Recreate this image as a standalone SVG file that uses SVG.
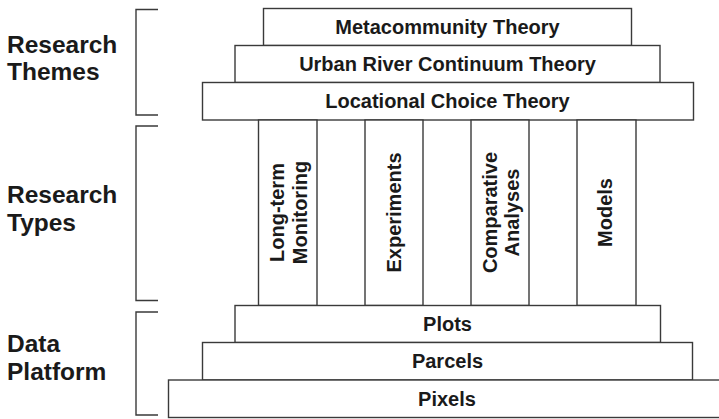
<svg xmlns="http://www.w3.org/2000/svg" width="719" height="419" viewBox="0 0 719 419">
  <style>
    .box { fill: #ffffff; stroke: #3a3a3a; stroke-width: 1.4; }
    .bracket { fill: none; stroke: #3a3a3a; stroke-width: 1.4; }
    .lbl { font-family: "Liberation Sans", Arial, sans-serif; font-weight: bold; font-size: 20px; fill: #1a1a1a; text-anchor: middle; }
    .side { font-family: "Liberation Sans", Arial, sans-serif; font-weight: bold; font-size: 24.5px; fill: #1a1a1a; }
  </style>
  <rect width="719" height="419" fill="#ffffff"/>

  <!-- tier labels on the left -->
  <g id="label-themes">
    <text class="side" x="7" y="53">Research</text>
    <text class="side" x="7" y="80">Themes</text>
  </g>
  <g id="label-types">
    <text class="side" x="7" y="203">Research</text>
    <text class="side" x="7" y="231">Types</text>
  </g>
  <g id="label-platform">
    <text class="side" x="7" y="352">Data</text>
    <text class="side" x="7" y="380">Platform</text>
  </g>

  <!-- brackets grouping each tier -->
  <g id="brackets">
    <path class="bracket" d="M158 9.5 H136 V115 H158"/>
    <path class="bracket" d="M158 126 H136 V300.5 H158"/>
    <path class="bracket" d="M158 312 H136 V415 H158"/>
  </g>

  <!-- research themes (roof) -->
  <g id="theme-metacommunity">
    <rect class="box" x="263.5" y="8.5" width="368" height="37"/>
    <text class="lbl" x="447.5" y="33.5">Metacommunity Theory</text>
  </g>
  <g id="theme-urban-river">
    <rect class="box" x="235" y="45.5" width="425" height="37"/>
    <text class="lbl" x="447.5" y="70.5">Urban River Continuum Theory</text>
  </g>
  <g id="theme-locational">
    <rect class="box" x="202.5" y="82.5" width="491" height="37.5"/>
    <text class="lbl" x="447.5" y="107.5">Locational Choice Theory</text>
  </g>

  <!-- research types (pillars) -->
  <g id="type-monitoring">
    <rect class="box" x="258.5" y="120" width="58.5" height="185.5"/>
    <text class="lbl" transform="translate(284,212.5) rotate(-90)" x="0" y="0">Long-term</text>
    <text class="lbl" transform="translate(306.5,212.5) rotate(-90)" x="0" y="0">Monitoring</text>
  </g>
  <g id="type-experiments">
    <rect class="box" x="365" y="120" width="58" height="185.5"/>
    <text class="lbl" transform="translate(400.5,212.5) rotate(-90)" x="0" y="0">Experiments</text>
  </g>
  <g id="type-comparative">
    <rect class="box" x="471" y="120" width="58" height="185.5"/>
    <text class="lbl" transform="translate(496.5,212.5) rotate(-90)" x="0" y="0">Comparative</text>
    <text class="lbl" transform="translate(518.5,212.5) rotate(-90)" x="0" y="0">Analyses</text>
  </g>
  <g id="type-models">
    <rect class="box" x="577" y="120" width="59" height="185.5"/>
    <text class="lbl" transform="translate(611.5,212.5) rotate(-90)" x="0" y="0">Models</text>
  </g>

  <!-- data platform (foundation) -->
  <g id="platform-plots">
    <rect class="box" x="235" y="305.5" width="425.5" height="37"/>
    <text class="lbl" x="447.5" y="330.5">Plots</text>
  </g>
  <g id="platform-parcels">
    <rect class="box" x="202.5" y="342.5" width="490" height="37.5"/>
    <text class="lbl" x="447.5" y="367.5">Parcels</text>
  </g>
  <g id="platform-pixels">
    <rect class="box" x="168.5" y="380" width="560" height="37.5"/>
    <text class="lbl" x="447" y="405.5">Pixels</text>
  </g>

  <g id="connectors"></g>
</svg>
